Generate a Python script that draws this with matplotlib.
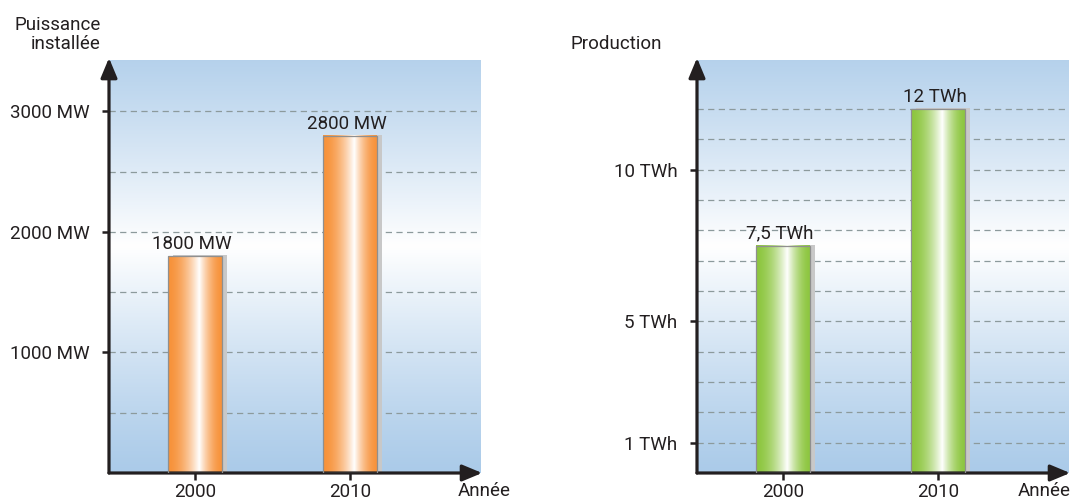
import numpy as np
import matplotlib.pyplot as plt
import matplotlib.transforms as mtransforms
from matplotlib.colors import to_rgb

plt.rcParams['font.family'] = ['Roboto', 'DejaVu Sans']

# data
years = ["2000", "2010"]
power_mw = [1800, 2800]
power_labels = ["1800 MW", "2800 MW"]
power_ticks = [1000, 2000, 3000]
power_tick_labels = ["1000 MW", "2000 MW", "3000 MW"]
power_grid = [500, 1000, 1500, 2000, 2500, 3000]

prod_twh = [7.5, 12]
prod_labels = ["7,5 TWh", "12 TWh"]
prod_ticks = [1, 5, 10]
prod_tick_labels = ["1 TWh", "5 TWh", "10 TWh"]
prod_grid = list(range(1, 13))

BLUE = np.array(to_rgb("#abcbe9"))
INK = "#231f20"
FS = 13.5


def sky(ax):
    # vertical blue -> white -> blue background
    t = np.linspace(0, 1, 256)[:, None]
    w = np.clip(1 - np.abs(t - 0.55) / 0.55, 0, 1) ** 1.2
    img = BLUE[None, None, :] * (1 - w[..., None]) + np.ones(3) * w[..., None]
    img = np.repeat(img, 2, axis=1)
    ax.imshow(img, extent=[0, 1, 0, 1], transform=ax.transAxes, origin="lower",
              aspect="auto", zorder=0, interpolation="bilinear")


def tube(ax, x, h, width, color):
    # gray drop shadow on the right
    shadow = mtransforms.offset_copy(ax.transData, fig=ax.figure, x=5, y=1, units="dots")
    ax.add_patch(plt.Rectangle((x - width / 2, 0), width, h, color="#c8c8c8",
                               transform=shadow, zorder=2, lw=0))
    # cylinder-like horizontal shading
    c = np.array(to_rgb(color))
    t = np.linspace(0, 1, 200)
    d = np.where(t < 0.57, (0.57 - t) / 0.57, (t - 0.57) / 0.43)
    w = (1 - d) ** 1.8
    img = c[None, :] * (1 - w[:, None]) + np.ones(3) * w[:, None]
    img = np.repeat(img[None, :, :], 2, axis=0)
    ax.imshow(img, extent=[x - width / 2, x + width / 2, 0, h], aspect="auto",
              zorder=3, interpolation="bilinear")
    ax.add_patch(plt.Rectangle((x - width / 2, 0), width, h, fill=False,
                               ec="#8f8f8f", lw=0.9, zorder=4))


def panel(rect, values, labels, ticks, tick_labels, grid, ymax, color,
          ylabel, ylab_xy, annee_x, annee_ha):
    ax = fig.add_axes(rect)
    xs = np.arange(len(values))
    ax.set_xlim(-0.555, 1.845)
    ax.set_ylim(0, ymax)
    sky(ax)
    for g in grid:
        ax.axhline(g, color="#8c9a9c", lw=0.9, dashes=(5, 3.5), zorder=1)
    for x, v, lab in zip(xs, values, labels):
        tube(ax, x, v, 0.35, color)
        ax.annotate(lab, (x, v), xytext=(-2, 2), textcoords="offset points",
                    ha="center", va="bottom", fontsize=FS, color=INK, zorder=5)
    for s in ax.spines.values():
        s.set_visible(False)
    ax.set_yticks(ticks)
    ax.set_yticklabels(tick_labels)
    ax.set_xticks(xs)
    ax.set_xticklabels(years)
    ax.tick_params(axis="y", length=5, width=1.8, pad=9, labelsize=FS, colors=INK)
    ax.tick_params(axis="x", length=5, width=1.8, pad=2.5, labelsize=FS, colors=INK)
    # axis arrows
    arrow = dict(arrowstyle="-|>,head_length=1.2,head_width=0.5", lw=2.3,
                 color=INK, shrinkA=0, shrinkB=0, mutation_scale=10)
    ax.annotate("", xy=(0, 1.005), xytext=(0, 0), xycoords="axes fraction",
                arrowprops=arrow, annotation_clip=False)
    ax.annotate("", xy=(1.003, 0), xytext=(0, 0), xycoords="axes fraction",
                arrowprops=arrow, annotation_clip=False)
    fig.text(annee_x, 1 - 482 / 501, "Année", ha=annee_ha, va="top",
             fontsize=FS, color=INK)
    fig.text(ylab_xy[0], ylab_xy[1], ylabel, ha="right", va="bottom",
             fontsize=FS, color=INK, linespacing=1.05)
    return ax


fig = plt.figure(figsize=(10.71, 5.01), dpi=100)

bottom = 28 / 501
height = 413 / 501
panel([109 / 1071, bottom, 372 / 1071, height], power_mw, power_labels,
      power_ticks, power_tick_labels, power_grid, 3427, "#f7923a",
      "Puissance\ninstallée", (101 / 1071, 1 - 53 / 501), 484 / 1071, "center")
panel([697 / 1071, bottom, 372 / 1071, height], prod_twh, prod_labels,
      prod_ticks, prod_tick_labels, prod_grid, 13.62, "#8dc63f",
      "Production", (662 / 1071, 1 - 53 / 501), 1071 / 1071, "right")

fig.savefig("out.png", dpi=100)
